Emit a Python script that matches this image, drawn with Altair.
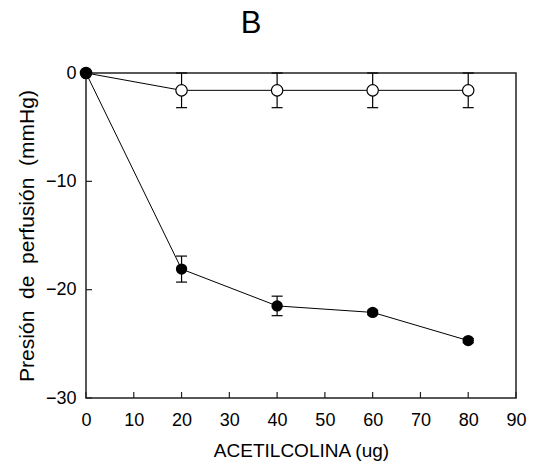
import altair as alt
import pandas as pd

# Acetylcholine dose (ug) and perfusion pressure change (mmHg), mean and SE
dose = [0, 20, 40, 60, 80]
open_mean = [0, -1.6, -1.6, -1.6, -1.6]
open_se = [0, 1.6, 1.6, 1.6, 1.6]
filled_mean = [0, -18.1, -21.5, -22.1, -24.7]
filled_se = [0, 1.2, 0.9, 0.2, 0.2]

x_ticks = [0, 10, 20, 30, 40, 50, 60, 70, 80, 90]
y_ticks = [-30, -20, -10, 0]

FONT = "Liberation Sans"
W, H = 430, 325
TICK = 6
NB = "\u00a0"

rows = []
for s, means, ses in (("open", open_mean, open_se), ("filled", filled_mean, filled_se)):
    for d, m, e in zip(dose, means, ses):
        rows.append({"series": s, "dose": d, "value": m, "lo": m - e, "hi": m + e, "se": e})
df = pd.DataFrame(rows)
err = df[df["se"] > 0]

x_scale = alt.Scale(domain=[0, 90], nice=False, zero=False)
y_scale = alt.Scale(domain=[-30, 0], nice=False, zero=False)

x_axis = alt.Axis(values=x_ticks, ticks=False, tickSize=0, domain=False, grid=False,
                  labelFontSize=18, labelFont=FONT, labelColor="black", labelPadding=13,
                  title="ACETILCOLINA (ug)", titleFont=FONT, titleFontSize=19,
                  titleFontWeight="normal", titleColor="black", titlePadding=12,
                  labelFlush=False)
y_axis = alt.Axis(values=y_ticks, ticks=False, tickSize=0, domain=False, grid=False,
                  labelFontSize=18, labelFont=FONT, labelColor="black", labelPadding=10,
                  title=f"Presión {NB}de {NB}perfusión {NB}(mmHg)", titleFont=FONT,
                  titleFontSize=21, titleFontWeight="normal", titleColor="black",
                  titlePadding=8)

X = alt.X("dose:Q", scale=x_scale, axis=x_axis)
Y = alt.Y("value:Q", scale=y_scale, axis=y_axis)

lines = alt.Chart(df).mark_line(color="black", strokeWidth=1).encode(
    x=X, y=Y, detail="series:N")

bars = alt.Chart(err).mark_rule(color="black", strokeWidth=1.2).encode(
    x=X, y=alt.Y("lo:Q", scale=y_scale, axis=y_axis), y2="hi:Q")
cap_lo = alt.Chart(err).mark_point(shape="stroke", size=121, color="black",
                                   strokeWidth=1.2, filled=False, opacity=1).encode(
    x=X, y=alt.Y("lo:Q", scale=y_scale, axis=y_axis))
cap_hi = alt.Chart(err).mark_point(shape="stroke", size=121, color="black",
                                   strokeWidth=1.2, filled=False, opacity=1).encode(
    x=X, y=alt.Y("hi:Q", scale=y_scale, axis=y_axis))

pts_open = alt.Chart(df[df["series"] == "open"]).mark_point(
    shape="circle", size=130, filled=True, fill="white", stroke="black",
    strokeWidth=1.2, opacity=1).encode(x=X, y=Y)
pts_filled = alt.Chart(df[df["series"] == "filled"]).mark_point(
    shape="circle", size=130, filled=True, color="black", opacity=1).encode(x=X, y=Y)

# inward tick marks along the bottom and left frame edges
xt = pd.DataFrame({"dose": x_ticks})
yt = pd.DataFrame({"value": y_ticks})
ticks_x = alt.Chart(xt).mark_rule(color="#222", strokeWidth=1.2).encode(
    x=X, y=alt.value(H), y2=alt.value(H - TICK))
ticks_y = alt.Chart(yt).mark_rule(color="#222", strokeWidth=1.2).encode(
    y=Y, x=alt.value(0), x2=alt.value(TICK))

chart = alt.layer(lines, ticks_x, ticks_y, bars, cap_lo, cap_hi, pts_open, pts_filled).properties(
    width=W, height=H,
    title=alt.TitleParams("B", font=FONT, fontSize=31, fontWeight="normal",
                          color="black", dx=-50, offset=24, anchor="middle"),
    autosize=alt.AutoSizeParams(type="none"),
    padding={"left": 86, "top": 73, "right": 20, "bottom": 66},
).configure(background="white").configure_view(stroke="#222", strokeWidth=1.5)

chart.save("out.html", embed_options={"renderer": "svg", "actions": False})
